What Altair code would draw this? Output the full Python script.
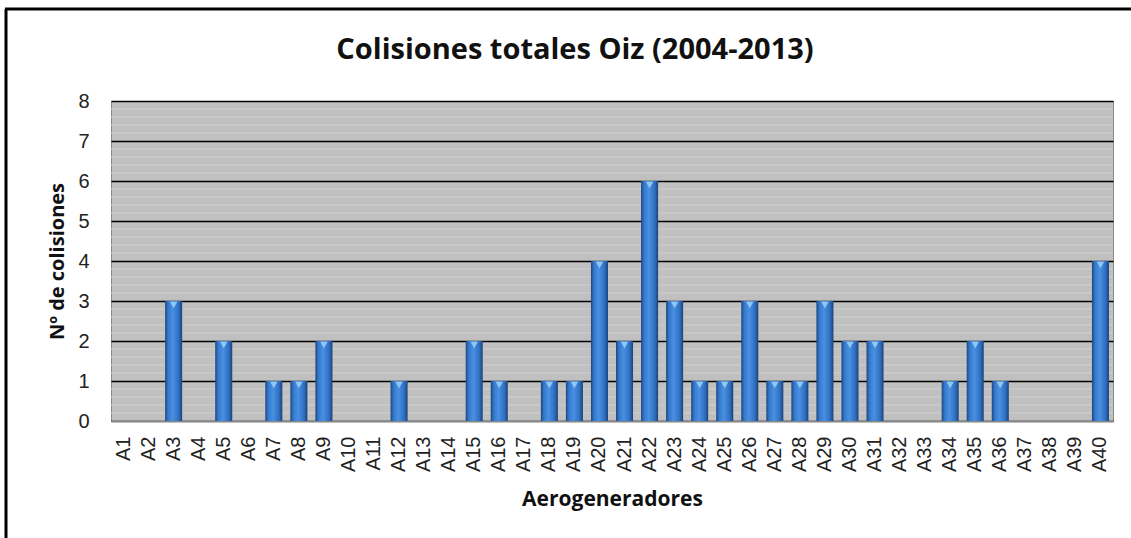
import altair as alt
import pandas as pd

turbines = [f"A{i}" for i in range(1, 41)]
collisions = [0, 0, 3, 0, 2, 0, 1, 1, 2, 0,
              0, 1, 0, 0, 2, 1, 0, 1, 1, 4,
              2, 6, 3, 1, 1, 3, 1, 1, 3, 2,
              2, 0, 0, 1, 2, 1, 0, 0, 0, 4]
minor_ticks = [0.2, 0.4, 0.6, 0.8, 1.2, 1.4, 1.6, 1.8, 2.2, 2.4, 2.6, 2.8,
               3.2, 3.4, 3.6, 3.8, 4.2, 4.4, 4.6, 4.8, 5.2, 5.4, 5.6, 5.8,
               6.2, 6.4, 6.6, 6.8, 7.2, 7.4, 7.6, 7.8]
major_ticks = [0, 1, 2, 3, 4, 5, 6, 7, 8]
chart_title = ["Colisiones totales Oiz (2004-2013)"]

df = pd.DataFrame({"Aerogenerador": turbines, "Colisiones": collisions})
df_nz = df[df["Colisiones"] > 0]

W, H = 1002, 320

xaxis = alt.Axis(title="Aerogeneradores", labelAngle=-90, labelFont="Liberation Sans",
                 labelFontSize=20, labelColor="#222", labelPadding=15, ticks=False,
                 domainColor="#888", domainWidth=1,
                 titleFont="Open Sans", titleFontSize=21, titleFontWeight="bold",
                 titleColor="#111", titlePadding=17)
yaxis = alt.Axis(title="Nº de colisiones", values=major_ticks, grid=True,
                 gridColor="#000", gridWidth=1.5, ticks=False, domain=False,
                 labelFont="Liberation Sans", labelFontSize=20, labelColor="#222",
                 labelPadding=22,
                 titleFont="Open Sans", titleFontSize=20, titleFontWeight="bold",
                 titleColor="#111", titlePadding=10)
xscale = alt.Scale(domain=turbines, paddingInner=0.32, paddingOuter=0.16)
yscale = alt.Scale(domain=[0, 8], nice=False)

grad = alt.Gradient(
    gradient="linear",
    stops=[alt.GradientStop(color="#1b4680", offset=0),
           alt.GradientStop(color="#3479cc", offset=0.18),
           alt.GradientStop(color="#4a90e2", offset=0.45),
           alt.GradientStop(color="#2f6fc0", offset=0.8),
           alt.GradientStop(color="#1a4279", offset=1)],
    x1=0, x2=1, y1=0, y2=0)

minor = alt.Chart(pd.DataFrame({"v": minor_ticks})).mark_rule(color="#d0d0d0", strokeWidth=1).encode(
    y=alt.Y("v:Q", scale=yscale, axis=yaxis)
)

bars = alt.Chart(df).mark_bar(color=grad).encode(
    x=alt.X("Aerogenerador:N", scale=xscale, axis=xaxis),
    y=alt.Y("Colisiones:Q", scale=yscale, axis=yaxis),
)

tri = alt.Chart(df_nz).mark_point(shape="triangle-down", filled=True, color="#8fc6f4",
                                  size=55, opacity=1, yOffset=4).encode(
    x=alt.X("Aerogenerador:N", scale=xscale, axis=xaxis),
    y=alt.Y("Colisiones:Q", scale=yscale, axis=yaxis),
)

title = alt.Chart(pd.DataFrame({"t": chart_title})).mark_text(
    font="Open Sans", fontSize=29, fontWeight="bold", color="#111",
    align="center", baseline="middle").encode(
    text="t:N", x=alt.value(464), y=alt.value(-51))

border_left = alt.Chart(df.head(1)).mark_rule(color="#000", strokeWidth=3).encode(
    x=alt.value(-105), y=alt.value(-92), y2=alt.value(450))
border_top = alt.Chart(df.head(1)).mark_rule(color="#000", strokeWidth=3).encode(
    x=alt.value(-106), x2=alt.value(1030), y=alt.value(-92))

chart = alt.layer(minor, bars, tri, title, border_left, border_top).properties(
    width=W, height=H,
    padding={"left": 111, "top": 101, "right": 18, "bottom": 117},
    autosize=alt.AutoSizeParams(type="none"),
    background="white",
).configure_view(fill="#c0c0c0", stroke="#8a8a8a", strokeWidth=1)

chart.save("out.html", embed_options={"renderer": "svg", "actions": False})
